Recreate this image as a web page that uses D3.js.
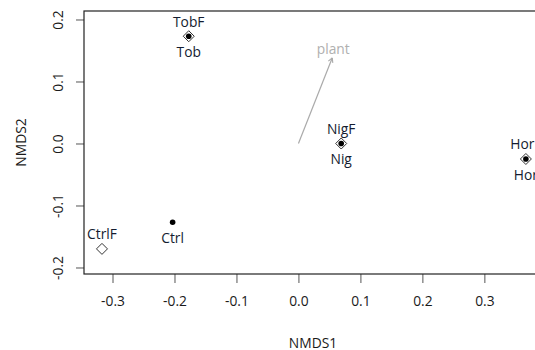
<!DOCTYPE html>
<html><head><meta charset="utf-8">
<script src="https://cdn.jsdelivr.net/npm/d3@7"></script>
<style>body{margin:0;background:#fff}svg{display:block}</style>
</head><body>
<script>
// Data
const sites = ["Tob", "Nig", "Hor", "Ctrl"];
const siteX = [-0.177, 0.069, 0.367, -0.203];
const siteY = [0.173, 0.000, -0.025, -0.127];
const fSites = ["TobF", "NigF", "HorF", "CtrlF"];
const fX = [-0.177, 0.069, 0.367, -0.317];
const fY = [0.173, 0.000, -0.025, -0.170];
const vecName = ["plant"];
const vecX = [0.0545];
const vecY = [0.138];
const xTicks = [-0.3, -0.2, -0.1, 0.0, 0.1, 0.2, 0.3];
const yTicks = [-0.2, -0.1, 0.0, 0.1, 0.2];
const xLim = [-0.346, 0.393];
const yLim = [-0.2105, 0.2137];

const W = 535, H = 350;
const L = 84, R = 542, T = 11, B = 274;
const font = "'Open Sans', sans-serif";
const fs = 13.8;
const svg = d3.select("body").append("svg").attr("width", W).attr("height", H);
const x = d3.scaleLinear().domain(xLim).range([L, R]);
const y = d3.scaleLinear().domain(yLim).range([B, T]);

// axes
const xa = svg.append("g").attr("transform", `translate(0,${B})`)
  .call(d3.axisBottom(x).tickValues(xTicks).tickFormat(d3.format(".1f")).tickSize(9).tickPadding(13));
const ya = svg.append("g").attr("transform", `translate(${L},0)`)
  .call(d3.axisLeft(y).tickValues(yTicks).tickFormat(d3.format(".1f")).tickSize(8));
[xa, ya].forEach(g => {
  g.select(".domain").remove();
  g.selectAll(".tick line").attr("stroke", "#555");
  g.selectAll("text").attr("font-family", font).attr("font-size", fs).attr("fill", "#1a1a1a");
});
xa.selectAll("text").text(d => d3.format(".1f")(d).replace("−", "-"));
ya.selectAll(".tick text")
  .text(d => d3.format(".1f")(d).replace("−", "-"))
  .attr("text-anchor", "middle").attr("dy", null).attr("x", null)
  .attr("transform", "translate(-27,0) rotate(-90)").attr("dominant-baseline", "central");

// box
svg.append("rect").attr("x", L).attr("y", T).attr("width", R - L).attr("height", B - T)
  .attr("fill", "none").attr("stroke", "#222").attr("stroke-width", 1.2);

// axis titles
svg.append("text").attr("x", (L + R) / 2).attr("y", 342).attr("text-anchor", "middle")
  .attr("dominant-baseline", "central").attr("font-family", font).attr("font-size", fs)
  .attr("fill", "#1a1a1a").text("NMDS1");
svg.append("text").attr("transform", `translate(20,${(T + B) / 2}) rotate(-90)`)
  .attr("text-anchor", "middle").attr("dominant-baseline", "central").attr("font-family", font)
  .attr("font-size", fs).attr("fill", "#1a1a1a").text("NMDS2");

// vector
vecName.forEach((n, i) => {
  const x0 = x(0), y0 = y(0), x1 = x(vecX[i]), y1 = y(vecY[i]);
  svg.append("line").attr("x1", x0).attr("y1", y0).attr("x2", x1).attr("y2", y1)
    .attr("stroke", "#aaa").attr("stroke-width", 1.2);
  const a = Math.atan2(y1 - y0, x1 - x0), h = 5;
  [0.5, -0.5].forEach(s => {
    svg.append("line").attr("x1", x1).attr("y1", y1)
      .attr("x2", x1 - h * Math.cos(a + s)).attr("y2", y1 - h * Math.sin(a + s))
      .attr("stroke", "#aaa").attr("stroke-width", 1.1);
  });
  svg.append("text").attr("x", x(vecX[i]) + 1).attr("y", y(vecY[i]) - 9)
    .attr("text-anchor", "middle").attr("dominant-baseline", "central")
    .attr("font-family", font).attr("font-size", fs).attr("fill", "#b0b0b0").text(n);
});

// F diamonds
fSites.forEach((n, i) => {
  const cx = x(fX[i]), cy = y(fY[i]), r = 5.5;
  svg.append("path").attr("d", `M${cx},${cy - r}L${cx + r},${cy}L${cx},${cy + r}L${cx - r},${cy}Z`)
    .attr("fill", "none").attr("stroke", "#333").attr("stroke-width", 1);
  svg.append("text").attr("x", cx).attr("y", cy - 15).attr("text-anchor", "middle")
    .attr("dominant-baseline", "central").attr("font-family", font).attr("font-size", fs)
    .attr("fill", "#141c30").text(n);
});
// site dots
sites.forEach((n, i) => {
  const cx = x(siteX[i]), cy = y(siteY[i]);
  svg.append("circle").attr("cx", cx).attr("cy", cy).attr("r", 2.8).attr("fill", "#000");
  svg.append("text").attr("x", cx).attr("y", cy + 15.5).attr("text-anchor", "middle")
    .attr("dominant-baseline", "central").attr("font-family", font).attr("font-size", fs)
    .attr("fill", "#141c30").text(n);
});
</script>
</body></html>
